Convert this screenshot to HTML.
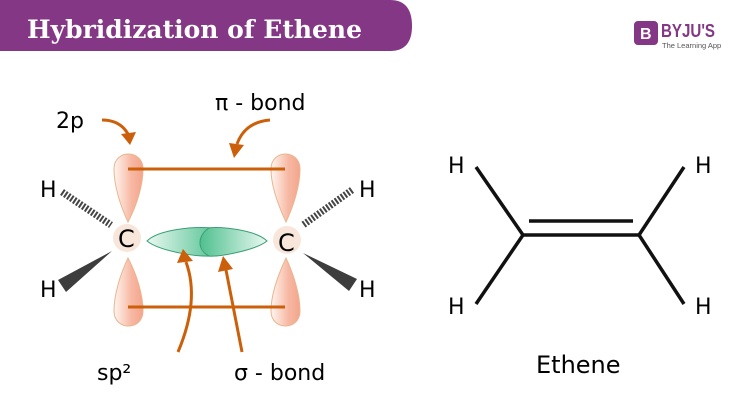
<!DOCTYPE html>
<html><head><meta charset="utf-8"><style>
html,body{margin:0;padding:0;background:#fff;}
svg{display:block;}
</style></head><body>
<svg width="751" height="412" viewBox="0 0 751 412" xmlns="http://www.w3.org/2000/svg">
<defs>
<linearGradient id="pg" x1="0" x2="1" y1="0" y2="0">
<stop offset="0" stop-color="#fff5f0"/><stop offset="0.6" stop-color="#f7b8a3"/><stop offset="1" stop-color="#f4a58c"/>
</linearGradient>
<linearGradient id="gl" x1="0" x2="1"><stop offset="0" stop-color="#e9f8f1"/><stop offset="1" stop-color="#4fc08f"/></linearGradient>
<linearGradient id="gr" x1="0" x2="1"><stop offset="0" stop-color="#4fc08f"/><stop offset="1" stop-color="#e9f8f1"/></linearGradient>
</defs>
<!-- header -->
<path d="M0 0 H390 Q412 0 412 26 Q412 51 390 51 H0 Z" fill="#833784"/>
<text x="27" y="38" font-family="DejaVu Serif, serif" font-weight="bold" font-size="25" fill="#fff" textLength="335" lengthAdjust="spacingAndGlyphs">Hybridization of Ethene</text>
<!-- logo -->
<rect x="634" y="21" width="24" height="24" rx="4" fill="#833784"/>
<text x="640" y="39" font-family="Liberation Sans, sans-serif" font-weight="bold" font-size="16" fill="#fff">B</text>
<text x="661" y="37" font-family="Liberation Sans, sans-serif" font-weight="bold" font-size="18" fill="#833784" textLength="54" lengthAdjust="spacingAndGlyphs">BYJU'S</text>
<text x="662" y="48" font-family="Liberation Sans, sans-serif" font-size="7.5" fill="#555">The Learning App</text>

<!-- p orbitals -->
<g fill="url(#pg)" stroke="#eab58f" stroke-width="1">
<path d="M128 222 C120 205 114 185 114 169 C114 149 143 149 143 169 C143 185 137 205 128 222 Z"/>
<path d="M128 258 C120 275 114 295 114 311 C114 331 143 331 143 311 C143 295 137 275 128 258 Z"/>
<path d="M286 222 C278 205 271 185 271 169 C271 149 300 149 300 169 C300 185 294 205 286 222 Z"/>
<path d="M286 258 C278 275 271 295 271 311 C271 331 300 331 300 311 C300 295 294 275 286 258 Z"/>
</g>
<g stroke="#cc5f0a" stroke-width="3">
<line x1="128" y1="169" x2="285" y2="169"/>
<line x1="128" y1="307" x2="285" y2="307"/>
</g>
<!-- carbons -->
<circle cx="127" cy="238" r="14" fill="#f9e6db"/>
<circle cx="287" cy="240" r="14" fill="#f9e6db"/>
<text x="118" y="247" font-family="DejaVu Sans, sans-serif" font-size="24">C</text>
<text x="278" y="251" font-family="DejaVu Sans, sans-serif" font-size="24">C</text>
<!-- sp2 green -->
<path d="M147 241 C158 230 192 226 213 228 C222 236 222 250 213 256 C192 257 158 250 147 241 Z" fill="url(#gl)" stroke="#3a9e74" stroke-width="1"/>
<path d="M267 241 C256 230 220 226 209 228 C197 236 197 250 209 256 C220 257 256 250 267 241 Z" fill="url(#gr)" stroke="#3a9e74" stroke-width="1"/>
<!-- H bonds -->
<line x1="62" y1="192" x2="111" y2="225" stroke="#444" stroke-width="7" stroke-dasharray="2 1.6"/>
<line x1="352" y1="190" x2="303" y2="225" stroke="#444" stroke-width="7" stroke-dasharray="2 1.6"/>
<polygon points="112,251 58,280 66,292" fill="#3d3d3d"/>
<polygon points="303,253 357,279 349,291" fill="#3d3d3d"/>
<g font-family="DejaVu Sans, sans-serif" font-size="22" fill="#000">
<text x="40" y="197">H</text>
<text x="40" y="297">H</text>
<text x="359" y="197">H</text>
<text x="359" y="297">H</text>
</g>
<!-- arrows -->
<g stroke="#cc5f0a" stroke-width="3" fill="none">
<path d="M102 120 Q120 120 128 134"/>
<path d="M270 120 Q245 122 237 144"/>
<path d="M178 352 Q200 300 186 262"/>
<path d="M242 352 L226 270"/>
</g>
<g fill="#cc5f0a">
<polygon points="121,134 136,132 130,145"/>
<polygon points="229,143 244,145 234,158"/>
<polygon points="177,263 193,261 183,249"/>
<polygon points="218,272 233,269 223,256"/>
</g>
<g font-family="DejaVu Sans, sans-serif" font-size="22" fill="#000">
<text x="56" y="128">2p</text>
<text x="215" y="110">π - bond</text>
<text x="97" y="380">sp²</text>
<text x="234" y="380">σ - bond</text>
</g>
<!-- ethene -->
<g stroke="#111" stroke-width="3.5" fill="none" stroke-linecap="butt">
<polyline points="476,167 523,235 476,304"/>
<polyline points="684,167 639,235 684,304"/>
<line x1="522" y1="235" x2="640" y2="235"/>
<line x1="529" y1="221" x2="633" y2="221"/>
</g>
<g font-family="DejaVu Sans, sans-serif" font-size="22" fill="#000">
<text x="448" y="173">H</text>
<text x="695" y="173">H</text>
<text x="448" y="314">H</text>
<text x="695" y="314">H</text>
<text x="536" y="373" font-size="24">Ethene</text>
</g>
</svg>
</body></html>
